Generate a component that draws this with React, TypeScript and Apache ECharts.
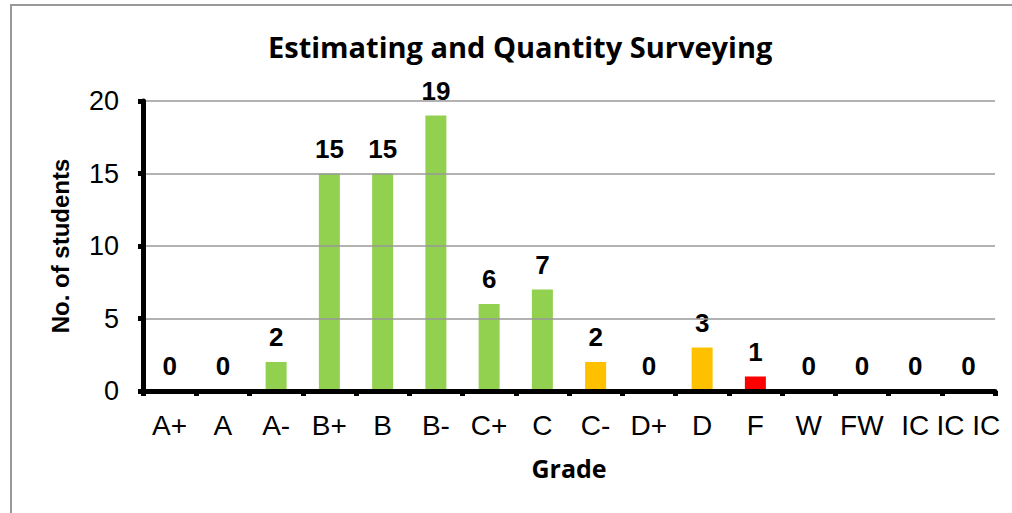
import React, { useEffect, useRef } from "react";
import * as echarts from "echarts";

const grades = ["A+", "A", "A-", "B+", "B", "B-", "C+", "C", "C-", "D+", "D", "F", "W", "FW", "IC", "IC IC"];
const students = [0, 0, 2, 15, 15, 19, 6, 7, 2, 0, 3, 1, 0, 0, 0, 0];
const barColors = ["#92D050", "#92D050", "#92D050", "#92D050", "#92D050", "#92D050", "#92D050", "#92D050", "#FFC000", "#FFC000", "#FFC000", "#FF0000", "#92D050", "#92D050", "#92D050", "#92D050"];
const yTicks = { min: 0, max: 20, interval: 5 };
const titleText = "Estimating and Quantity Surveying";
const xName = "Grade";
const yName = "No. of students";

export default function App() {
  const ref = useRef<HTMLDivElement>(null);
  useEffect(() => {
    if (!ref.current) return;
    const chart = echarts.init(ref.current, null, { renderer: "svg" });
    chart.setOption({
      animation: false,
      backgroundColor: "#fff",
      title: {
        text: titleText,
        left: 263,
        top: 27,
        textStyle: { fontFamily: "Open Sans", fontWeight: "bold", fontSize: 29, color: "#000" },
      },
      graphic: [
        {
          type: "rect",
          shape: { x: 11, y: 5, width: 1010, height: 530 },
          style: { fill: "none", stroke: "#999", lineWidth: 2 },
          silent: true,
          z: -1,
        },
      ],
      grid: { left: 143, right: 17, top: 101, bottom: 122 },
      xAxis: {
        type: "category",
        data: grades,
        name: xName,
        nameLocation: "middle",
        nameGap: 64,
        nameTextStyle: { fontFamily: "Open Sans", fontWeight: "bold", fontSize: 25, color: "#000" },
        axisLine: { lineStyle: { color: "#000", width: 5 } },
        axisTick: { show: true, length: 5, lineStyle: { color: "#000", width: 5 } },
        axisLabel: { color: "#000", fontFamily: "Liberation Sans", fontSize: 28, margin: 20, interval: 0 },
        z: 10,
      },
      yAxis: {
        type: "value",
        min: yTicks.min,
        max: yTicks.max,
        interval: yTicks.interval,
        name: yName,
        nameLocation: "middle",
        nameGap: 71,
        nameTextStyle: { fontFamily: "Liberation Sans", fontWeight: "bold", fontSize: 24, color: "#000" },
        axisLine: { show: true, lineStyle: { color: "#000", width: 5 } },
        axisTick: { show: true, length: 5, lineStyle: { color: "#000", width: 5 } },
        axisLabel: { color: "#000", fontFamily: "Liberation Sans", fontSize: 27, margin: 24 },
        splitLine: { lineStyle: { color: "#999", width: 1.5 } },
        z: 10,
      },
      series: [
        {
          type: "bar",
          data: students.map((v, i) => ({ value: v, itemStyle: { color: barColors[i] } })),
          barWidth: 21,
          label: {
            show: true,
            position: "top",
            distance: 12,
            color: "#000",
            fontFamily: "Liberation Sans",
            fontWeight: "bold",
            fontSize: 26,
          },
        },
      ],
    });
    return () => chart.dispose();
  }, []);
  return <div ref={ref} style={{ position: "fixed", left: 0, top: 0, width: 1012, height: 513 }} />;
}
